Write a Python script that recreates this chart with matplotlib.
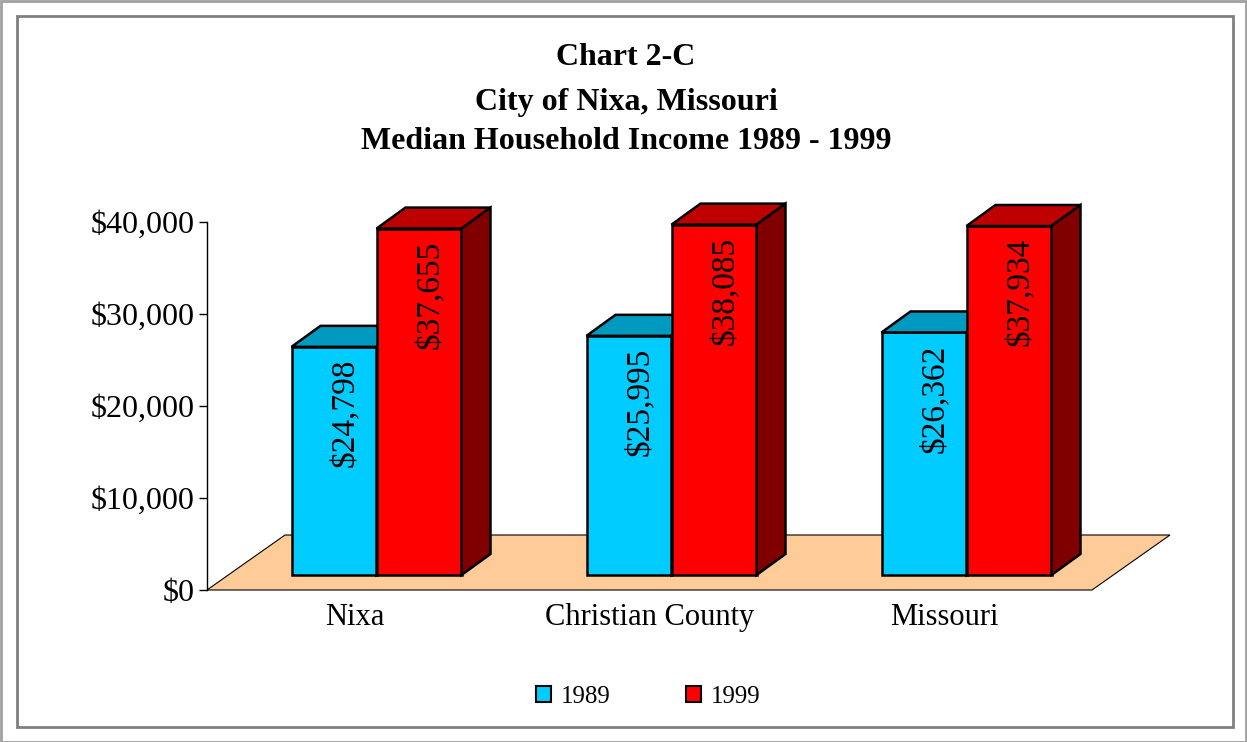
import matplotlib
matplotlib.use("Agg")
import matplotlib.pyplot as plt
from matplotlib.patches import Polygon, Rectangle, Patch

# data
categories = ["Nixa", "Christian County", "Missouri"]
years = ["1989", "1999"]
income_1989 = [24798, 25995, 26362]
income_1999 = [37655, 38085, 37934]
yticks = [0, 10000, 20000, 30000, 40000]
ytick_labels = ["$0", "$10,000", "$20,000", "$30,000", "$40,000"]

plt.rcParams["font.family"] = ["Liberation Serif", "DejaVu Serif"]

W, H = 1247, 742
fig = plt.figure(figsize=(W / 100, H / 100), dpi=100)

# axes placed so that $0 sits at y=590px and $40,000 at y=222px
cat_px = 295.0
px_per_dollar = 368.0 / 40000
xmin, xmax = -0.5, 2.8
ax = fig.add_axes([207 / W, (H - 590) / H, (xmax - xmin) * cat_px / W, 368 / H])
ax.set_xlim(xmin, xmax)
ax.set_ylim(0, 40000)


def dx(px):
    return px / cat_px


def dy(px):
    return px / px_per_dollar


# depth offsets of the pseudo 3d view
floor_dx, floor_dy = dx(78), dy(55)
shift_dx, shift_dy = dx(22), dy(15)
depth_dx, depth_dy = dx(29), dy(21)
bar_w = dx(85)

# floor
floor = Polygon([(xmin, 0), (2.5, 0), (2.5 + floor_dx, floor_dy), (xmin + floor_dx, floor_dy)],
                closed=True, facecolor="#FFCC99", edgecolor="black", lw=0.8, zorder=1,
                clip_on=False)
ax.add_patch(floor)

series = [
    (income_1989, -bar_w, "#00CCFF", "#0099BF", "#006F8C"),
    (income_1999, 0.0, "#FF0000", "#BF0000", "#800000"),
]

for i in range(len(categories)):
    for vals, off, front, top, side in series:
        x0 = i + shift_dx + off
        v = vals[i]
        ax.bar(x0, v, width=bar_w, bottom=shift_dy, align="edge",
               color=front, edgecolor="black", lw=1.8, zorder=2, clip_on=False)
        t = shift_dy + v
        ax.add_patch(Polygon([(x0, t), (x0 + bar_w, t), (x0 + bar_w + depth_dx, t + depth_dy),
                              (x0 + depth_dx, t + depth_dy)], closed=True,
                             facecolor=top, edgecolor="black", lw=1.8, zorder=2, clip_on=False))
        ax.add_patch(Polygon([(x0 + bar_w, shift_dy), (x0 + bar_w + depth_dx, shift_dy + depth_dy),
                              (x0 + bar_w + depth_dx, t + depth_dy), (x0 + bar_w, t)], closed=True,
                             facecolor=side, edgecolor="black", lw=1.8, zorder=2, clip_on=False))
        ax.text(x0 + bar_w / 2 + dx(11), t - dy(12), "${:,}".format(v), rotation=90,
                ha="center", va="top", fontsize=24, zorder=3)

# category labels under the floor
for i, c in enumerate(categories):
    ax.text(i, -dy(35), c, ha="center", va="baseline", fontsize=22, clip_on=False)

# value axis
for s in ["top", "right", "bottom"]:
    ax.spines[s].set_visible(False)
ax.spines["left"].set_linewidth(1.0)
ax.set_yticks(yticks)
ax.set_yticklabels(ytick_labels, fontsize=23)
ax.tick_params(axis="y", direction="out", length=6, width=1.0, pad=3)
ax.set_xticks([])
ax.patch.set_alpha(0)

# title
title_lines = ["Chart 2-C", "City of Nixa, Missouri", "Median Household Income 1989 - 1999"]
title_base = [65, 110, 149]
for line, yb in zip(title_lines, title_base):
    fig.text(626 / W, 1 - yb / H, line, ha="center", va="baseline",
             fontsize=23, fontweight="bold")

# legend
handles = [Patch(facecolor="#00CCFF", edgecolor="black", lw=1.5),
           Patch(facecolor="#FF0000", edgecolor="black", lw=1.5)]
fig.legend(handles, years, loc="center", bbox_to_anchor=(648 / W, 1 - 697 / H), ncol=2,
           frameon=False, fontsize=18, handlelength=0.6, handleheight=0.6,
           handletextpad=0.4, columnspacing=3.0)

# chart frame and page border
fig.patches.append(Rectangle((17 / W, (H - 727) / H), (1233 - 17) / W, (727 - 16) / H,
                             transform=fig.transFigure, fill=False, edgecolor="#808080", lw=2))
fig.patches.append(Rectangle((0.5 / W, 0.5 / H), (W - 1.5) / W, (H - 1.5) / H,
                             transform=fig.transFigure, fill=False, edgecolor="#A0A0A0", lw=2))

fig.savefig("out.png", dpi=100)
